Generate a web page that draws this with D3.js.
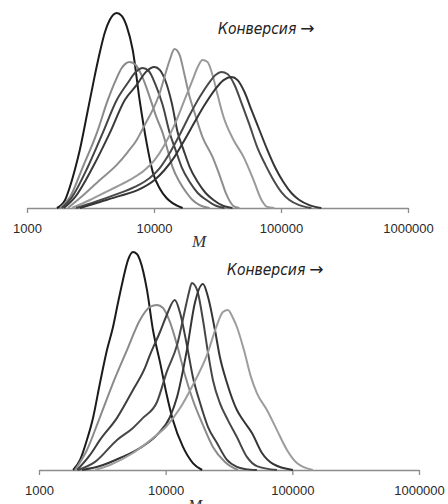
<!DOCTYPE html>
<html>
<head>
<meta charset="utf-8">
<script src="https://cdn.jsdelivr.net/npm/d3@7"></script>
<style>
  body { margin: 0; background: #fff; }
  svg { display: block; }
</style>
</head>
<body>
<svg width="448" height="504"></svg>
<script>
// tick values and labels
var tickValues = [1000, 10000, 100000, 1000000];
var axisTitle = "M";
var noteWord = "Конверсия";
var noteArrow = "→";

// upper panel: [M, relative intensity]
var top1 = [[1720,0],[1990,4],[2180,11],[2390,20],[2610,30],[3010,50],[3420,68],[3750,80],[4100,90],[4490,96.5],[5090,100],[5570,98.5],[6110,93],[6800,81],[7720,55],[8770,33],[9770,18.5],[11100,10],[12600,5],[14000,2.5],[16800,0]];
var top2 = [[1820,0],[2180,5.6],[2750,21],[3550,38.5],[4330,55.4],[5000,65.6],[5570,71.8],[6440,74.9],[7180,73.3],[8150,66.7],[9250,56.9],[10500,46.2],[11700,38.5],[12800,29.7],[14000,21],[15900,13.3],[18100,7.7],[20100,4.1],[22900,1.5],[27400,0]];
var top3 = [[1880,0],[2260,5.6],[3010,21],[3950,38.5],[5090,55.4],[6210,64.1],[7180,69.7],[8150,71.8],[9090,70.3],[10300,63.1],[11700,52.8],[13300,38.5],[14800,29.7],[16500,21],[19100,13.3],[22100,7.7],[25900,4.1],[31100,1],[35900,0]];
var top4 = [[1950,0],[2390,5.6],[3300,21],[4490,38.5],[5890,55.4],[7310,63.1],[8610,69.7],[10100,72.3],[11100,70.8],[12400,64.6],[13800,53.8],[15400,38.5],[17100,29.7],[19100,21],[22100,13.3],[25500,7.7],[29400,4.1],[35300,1],[41500,0]];
var top5 = [[2100,0],[2610,5.1],[3750,14.4],[5090,22.1],[6210,28.7],[7310,34.9],[8450,42.6],[9770,50.3],[11100,59],[12100,67.2],[13300,75.9],[14500,81.5],[15900,78.5],[17400,68.2],[19100,56.9],[20900,48.7],[24100,36.4],[28900,26.2],[32800,16.9],[37300,6.7],[42300,1],[47100,0]];
var top6 = [[2260,0],[3130,4.1],[4490,9.2],[6440,14.4],[8450,19.5],[10100,24.6],[12100,32.3],[14500,42.6],[17400,55.4],[20100,65.6],[22100,72.3],[24100,75.9],[26400,74.9],[28900,68.2],[31700,57.9],[35300,46.7],[42300,34.9],[50700,26.2],[60700,14.4],[70200,4.1],[78200,0.5],[88700,0]];
var top7 = [[2430,0],[3420,3.1],[4910,6.7],[7050,10.8],[9250,15.4],[11100,20.5],[13300,28.2],[15900,37.4],[19100,47.7],[22900,56.9],[27400,64.6],[30500,68.2],[34000,69.7],[37900,68.7],[43100,63.1],[48900,53.8],[56500,42.6],[65300,30.8],[75400,22.1],[87200,14.4],[100700,8.2],[116400,4.1],[139400,1.5],[173300,0]];
var top8 = [[2610,0],[3750,3.1],[5380,6.2],[7720,9.7],[10100,14.4],[12100,19.5],[14500,26.2],[17400,34.9],[20900,44.1],[25000,52.8],[30000,60.5],[35300,65.6],[40800,67.2],[45500,65.6],[51600,59.5],[58500,50.3],[67600,40],[78200,29.7],[90400,20.5],[104400,13.3],[120700,7.7],[139400,4.1],[167100,1.5],[207700,0]];

// lower panel: [M, relative intensity]
var bot1 = [[1860,0],[2110,4.6],[2390,13.8],[2670,23.9],[3030,39.9],[3440,55],[3840,65.6],[4200,76.6],[4600,87.2],[5040,96.3],[5520,100],[5930,99.1],[6270,96.3],[7120,82.6],[7940,64.2],[9020,49.5],[10200,34.4],[11400,22.9],[13700,10.6],[16400,3.2],[19400,0]];
var bot2 = [[1920,0],[2390,9.2],[3030,24.3],[3840,39.9],[4950,55],[6270,68.8],[7520,74.8],[8540,75.7],[9530,74.3],[10800,67.9],[12300,57.3],[14200,43.6],[16400,32.1],[19700,20.6],[23600,10.6],[29400,3.7],[37200,0]];
var bot3 = [[2000,0],[2530,6.9],[3030,13.8],[4130,23.9],[5520,36.7],[6860,46.8],[7520,52.8],[9020,63.3],[10200,71.1],[11800,78],[13000,72],[14700,57.3],[16400,42.7],[18700,30.7],[21600,19.7],[25400,12.4],[30500,4.6],[36500,1.4],[43000,0.4],[52500,0]];
var bot4 = [[2030,0],[2770,3.7],[4130,13.8],[5520,19.3],[6620,23.9],[8540,31.2],[10200,45],[12300,57.3],[14200,73.4],[15300,81.7],[16100,85.8],[17700,82.6],[19700,68.8],[21600,53.7],[23600,41.3],[26800,30.7],[31000,22.9],[36500,15.1],[43800,6],[52500,1.8],[75600,0]];
var bot5 = [[2190,0],[3030,1.8],[4360,5.5],[6270,10.1],[8540,16.1],[10800,24.3],[12300,33.5],[14700,55],[17000,76.6],[19700,85.3],[21600,79.4],[24500,64.2],[26800,51.8],[30500,39.9],[36500,27.5],[40800,22.9],[48000,17],[57600,7.8],[70300,2.8],[101100,0]];
var bot6 = [[2770,0],[3630,2.3],[5520,7.8],[7940,14.7],[10200,20.2],[13000,28.4],[16400,39],[21200,52.8],[25400,66.5],[28300,72.5],[31000,73.4],[34000,69.7],[36500,65.6],[41500,55],[47100,42.7],[52500,35.3],[63000,27.5],[75600,18.3],[90700,9.2],[108700,3.2],[145400,0]];

// line colours, in series order
var topColors = ["#1b1b1b", "#8a8a8a", "#454545", "#3a3a3a", "#8f8f8f", "#9a9a9a", "#4a4a4a", "#353535"];
var botColors = ["#1b1b1b", "#8a8a8a", "#3f3f3f", "#474747", "#353535", "#9d9d9d"];

var svg = d3.select("svg");
svg.append("rect").attr("width", 448).attr("height", 504).attr("fill", "#fff");

// draws one panel: scales, curves, axis and labels
function drawPanel(series, colors, box) {
  var x = d3.scaleLog().domain([1000, 1000000]).range([box.left, box.right]),
      y = d3.scaleLinear().domain([0, 100]).range([box.base, box.peak]);

  var line = d3.line()
      .x(function (d) { return x(d[0]); })
      .y(function (d) { return y(d[1]); })
      .curve(d3.curveMonotoneX);

  var g = svg.append("g");

  // axis
  var axis = g.append("g")
      .attr("transform", "translate(0," + box.base + ")")
      .call(d3.axisBottom(x)
        .tickValues(tickValues)
        .tickFormat(d3.format("d"))
        .tickSize(5)
        .tickSizeOuter(0)
        .tickPadding(11));
  axis.select(".domain").attr("stroke", "#8c8c8c").attr("stroke-width", 1.3);
  axis.selectAll(".tick line").attr("stroke", "#8c8c8c").attr("stroke-width", 1.3);
  axis.selectAll(".tick text")
      .attr("fill", "#2a2a2a")
      .style("font-family", "'Liberation Sans', Arial, sans-serif")
      .style("font-size", "13px");

  // curves
  g.selectAll("path.mwd")
      .data(series)
    .enter().append("path")
      .attr("class", "mwd")
      .attr("fill", "none")
      .attr("stroke", function (d, i) { return colors[i]; })
      .attr("stroke-width", 2)
      .attr("stroke-linejoin", "round")
      .attr("d", line);

  // axis title
  g.append("text")
      .attr("x", box.titleX)
      .attr("y", box.titleY)
      .attr("text-anchor", "middle")
      .style("font-family", "'Liberation Serif', 'DejaVu Serif', serif")
      .style("font-style", "italic")
      .style("font-size", "17px")
      .attr("fill", "#333")
      .text(axisTitle);

  // note
  var note = g.append("text")
      .attr("x", box.noteX)
      .attr("y", box.noteY)
      .style("font-family", "'Liberation Sans Narrow', 'Arial Narrow', 'DejaVu Sans Condensed', sans-serif")
      .style("font-style", "italic")
      .style("font-size", "15.5px")
      .attr("fill", "#222");
  note.append("tspan").text(noteWord);
  note.append("tspan")
      .attr("dx", 4)
      .style("font-family", "'DejaVu Sans', sans-serif")
      .style("font-style", "normal")
      .style("font-size", "17px")
      .text(noteArrow);
}

drawPanel([top1, top2, top3, top4, top5, top6, top7, top8], topColors,
  {left: 27, right: 408, base: 208, peak: 13, titleX: 199, titleY: 247, noteX: 218, noteY: 34});

drawPanel([bot1, bot2, bot3, bot4, bot5, bot6], botColors,
  {left: 39, right: 419, base: 470, peak: 252, titleX: 195, titleY: 511, noteX: 227, noteY: 275});
</script>
</body>
</html>
